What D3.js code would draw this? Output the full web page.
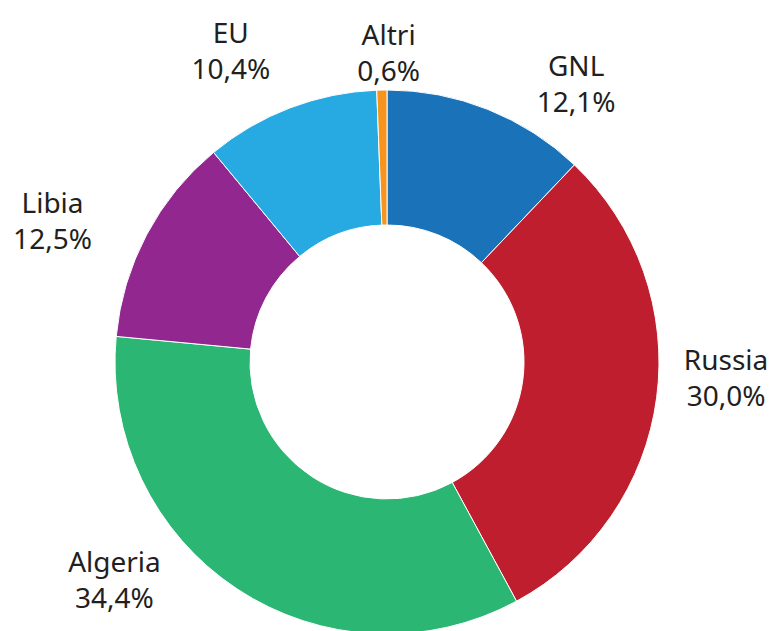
<!DOCTYPE html>
<html>
<head>
<meta charset="utf-8">
<script src="https://cdn.jsdelivr.net/npm/d3@7"></script>
<style>
  html, body { margin: 0; padding: 0; background: #fff; }
  svg { display: block; }
  .lbl { font-family: "Noto Sans", "Open Sans", sans-serif; font-size: 28px; fill: #231f20; }
</style>
</head>
<body>
<div id="torta"></div>
<script>
// fonti di approvvigionamento gas (quote %)
const fonti = ["GNL", "Russia", "Algeria", "Libia", "EU", "Altri"];
const quote = [12.1, 30.0, 34.4, 12.5, 10.4, 0.6];
const colori = ["#1a72b9", "#be1e2d", "#2bb673", "#92278f", "#27aae1", "#f7941d"];

const width = 772, height = 631;
const cx = 387, cy = 362;
const rOut = 272, rIn = 137, rLbl = 340;

// spostamenti manuali delle etichette rispetto al centroide
const spostaLbl = {
    "GNL":     [63, 38],
    "Russia":  [2, -29],
    "Algeria": [-85, -66],
    "Libia":   [-34, 18],
    "EU":      [-35, 7],
    "Altri":   [8, 31]
};

const dati = fonti.map((f, i) => ({ fonte: f, quota: quote[i], colore: colori[i] }));

const svg = d3.select("#torta")
    .append("svg")
    .attr("width", width)
    .attr("height", height);

const g = svg.append("g").attr("transform", `translate(${cx},${cy})`);

const pie = d3.pie().value(d => d.quota).sort(null);
const arc = d3.arc().innerRadius(rIn).outerRadius(rOut);
const arcLbl = d3.arc().innerRadius(rLbl).outerRadius(rLbl);

const fette = pie(dati);

g.selectAll("path")
    .data(fette)
    .enter()
    .append("path")
    .attr("d", arc)
    .attr("fill", d => d.data.colore)
    .attr("stroke", "#fff")
    .attr("stroke-width", 1);

const fmt = v => v.toFixed(1).replace(".", ",") + "%";

const lbl = g.selectAll("text.lbl")
    .data(fette)
    .enter()
    .append("text")
    .attr("class", "lbl")
    .attr("text-anchor", "middle")
    .attr("transform", d => {
        const [x, y] = arcLbl.centroid(d);
        const [dx, dy] = spostaLbl[d.data.fonte];
        return `translate(${x + dx},${y + dy})`;
    });

lbl.append("tspan")
    .attr("x", 0)
    .attr("y", -8)
    .text(d => d.data.fonte);

lbl.append("tspan")
    .attr("x", 0)
    .attr("y", 28)
    .text(d => fmt(d.data.quota));
</script>
</body>
</html>
